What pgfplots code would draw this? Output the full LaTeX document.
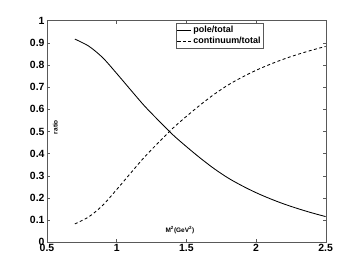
\documentclass[border=0pt]{standalone}
\usepackage{pgfplots}
\pgfplotsset{compat=1.18}
\usepackage{fontspec}
\setmainfont{Liberation Sans}
\begin{document}
\begin{tikzpicture}
\path (0,0) rectangle (360bp,273bp);
\begin{axis}[
  at={(47bp,30.7bp)}, anchor=south west,
  scale only axis, width=278.7bp, height=221.6bp,
  xmin=0.5, xmax=2.5, ymin=0, ymax=1,
  xtick={0.5,1,1.5,2,2.5}, ytick={0,0.1,...,1},
  yticklabels={0,0.1,0.2,0.3,0.4,0.5,0.6,0.7,0.8,0.9,1},
  xticklabels={0.5,1,1.5,2,2.5},
  tick align=inside, tick pos=both,
  major tick length=3bp,
  axis line style={gray!70!black},
  every tick/.style={gray!70!black},
  ticklabel style={font=\fontsize{10.5}{10}\selectfont\bfseries},
  xticklabel style={yshift=2bp},
  yticklabel style={xshift=1bp},
  xlabel={\fontsize{6.5}{7}\selectfont\bfseries M$^{\mathbf 2}$(GeV$^{\mathbf 2}$)},
  xlabel style={at={(axis description cs:0.477,0.055)}, anchor=center},
  ylabel={\fontsize{6.5}{7}\selectfont\bfseries ratio},
  ylabel style={at={(axis description cs:0.03,0.52)}, anchor=center, rotate=0},
  legend style={at={(axis description cs:0.462,0.99)}, anchor=north west,
    draw=gray!70!black, font=\fontsize{9}{10}\selectfont\bfseries,
    inner xsep=1bp, inner ysep=1bp, row sep=-1bp},
  legend cell align=left,
  legend image post style={xscale=0.8},
]
\addplot[black, line width=0.85pt, smooth] coordinates {
(0.7,0.917)(0.8,0.885)(0.9,0.833)(1.0,0.762)(1.1,0.688)(1.2,0.615)(1.3,0.550)(1.4,0.487)(1.5,0.432)(1.6,0.380)(1.7,0.332)(1.8,0.290)(1.9,0.255)(2.0,0.224)(2.1,0.197)(2.2,0.173)(2.3,0.152)(2.4,0.133)(2.5,0.116)};
\addlegendentry{pole/total}
\addplot[black, line width=0.85pt, smooth, dash pattern=on 3pt off 2.5pt] coordinates {
(0.7,0.083)(0.8,0.115)(0.9,0.167)(1.0,0.238)(1.1,0.312)(1.2,0.385)(1.3,0.450)(1.4,0.513)(1.5,0.568)(1.6,0.620)(1.7,0.668)(1.8,0.710)(1.9,0.745)(2.0,0.776)(2.1,0.803)(2.2,0.827)(2.3,0.848)(2.4,0.867)(2.5,0.884)};
\addlegendentry{continuum/total}
\end{axis}
\end{tikzpicture}
\end{document}
